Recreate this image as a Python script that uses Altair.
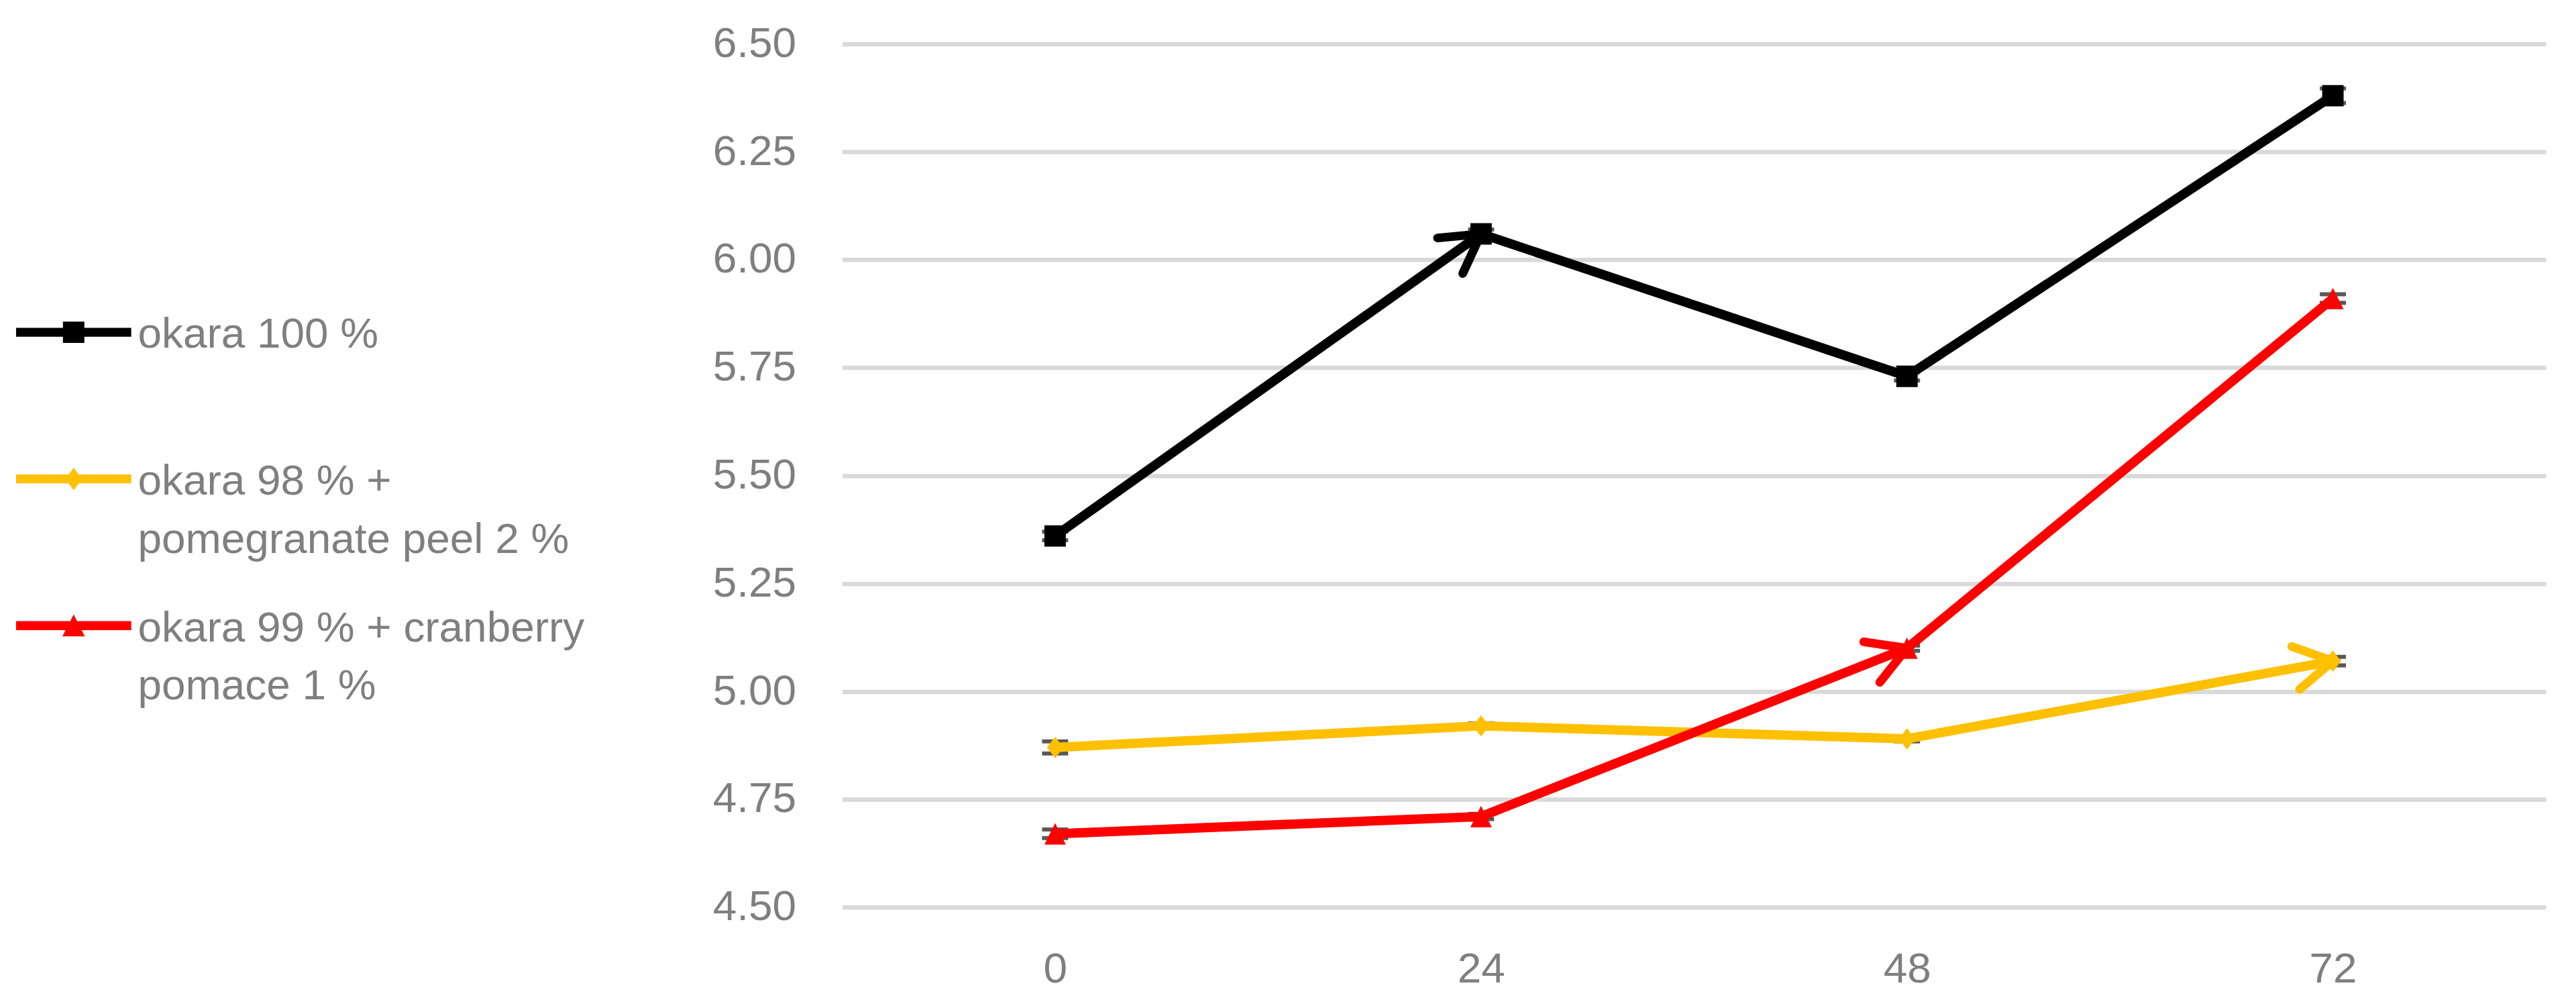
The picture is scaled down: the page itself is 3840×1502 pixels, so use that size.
import math
import altair as alt
import pandas as pd

# ---------------- data ----------------
hours = ["0", "24", "48", "72"]
series_keys = [
    "okara 100 %|",
    "okara 98 % +|pomegranate peel 2 %",
    "okara 99 % + cranberry|pomace 1 %",
]
colors = ["#000000", "#FFC000", "#FF0000"]
okara100 = [5.36, 6.06, 5.73, 6.38]
pomegranate = [4.87, 4.92, 4.89, 5.07]
cranberry = [4.67, 4.71, 5.10, 5.91]
err_okara100 = [0.01, 0.01, 0.01, 0.017]
err_pomegranate = [0.014, 0.006, 0.006, 0.01]
err_cranberry = [0.01, 0.006, 0.006, 0.01]
arrow_at = [1, 3, 2]          # index of the point an arrow head ends on
y_ticks = [4.50, 4.75, 5.00, 5.25, 5.50, 5.75, 6.00, 6.25, 6.50]

# ---------------- layout / style ----------------
W, H = 2545, 1289
YMIN, YMAX = 4.5, 6.5
FONT = "Liberation Sans Narrow, Arial Narrow, Liberation Sans, sans-serif"
GRAY = "#7f7f7f"
FS = 64

values = [okara100, pomegranate, cranberry]
errs = [err_okara100, err_pomegranate, err_cranberry]

rows = []
for key, vals, es in zip(series_keys, values, errs):
    for h, v, e in zip(hours, vals, es):
        rows.append(dict(series=key, hour=h, value=v, lo=v - e, hi=v + e))
df = pd.DataFrame(rows)

step = W / len(hours)
arr_rows = []
for key, vals, idx in zip(series_keys, values, arrow_at):
    dy = -(vals[idx] - vals[idx - 1]) * H / (YMAX - YMIN)
    ang = math.degrees(math.atan2(dy, step)) % 360
    arr_rows.append(dict(series=key, hour=hours[idx], value=vals[idx], angle=ang))
arr_df = pd.DataFrame(arr_rows)

legend_df = pd.DataFrame({"key": series_keys})

marker_paths = [
    "M-1,-1H1V1H-1Z",
    "M0,-1L0.76,0L0,1L-0.76,0Z",
    "M0,-1L1,1L-1,1Z",
]

# legend symbol: line (172px wide) with marker, drawn with r = 68px per unit
LS = 136                     # sqrt(symbol size)
r = LS / 2
hw = 86 / r                  # half width of the line symbol
s = 27.6 / r                 # shift down to first label line
t = 6.7 / r                  # half line thickness
m = 16 / r                   # half marker size
dw = 12.5 / r                # half diamond width
bar = f"M{-hw:.4f},{s-t:.4f}H{hw:.4f}V{s+t:.4f}H{-hw:.4f}Z"
legend_paths = [
    bar + f" M{-m:.4f},{s-m:.4f}H{m:.4f}V{s+m:.4f}H{-m:.4f}Z",
    bar + f" M0,{s-m*1.05:.4f}L{dw:.4f},{s:.4f}L0,{s+m*1.05:.4f}L{-dw:.4f},{s:.4f}Z",
    bar + f" M0,{s-m*1.05:.4f}L{m*1.05:.4f},{s+m:.4f}L{-m*1.05:.4f},{s+m:.4f}Z",
]
arrow_path = "M-0.87,-0.5L0,0L-0.87,0.5"

xscale = alt.Scale(type="point", padding=0.5)
yscale = alt.Scale(domain=[YMIN, YMAX], nice=False, zero=False)

x_axis = alt.Axis(title=None, labelAngle=0, labelFont=FONT, labelFontSize=FS,
                  labelColor=GRAY, ticks=False, tickSize=0, domain=False,
                  grid=False, labelPadding=61)
y_axis = alt.Axis(title=None, values=y_ticks, format=".2f", labelFont=FONT,
                  labelFontSize=FS, labelColor=GRAY, ticks=False, tickSize=0,
                  domain=False, grid=True, gridColor="#d9d9d9", gridWidth=6.5,
                  labelPadding=69)

x_enc = alt.X("hour:N", sort=hours, scale=xscale, axis=x_axis)


def y_of(field):
    return alt.Y(field, scale=yscale, axis=y_axis)


color_enc = alt.Color("series:N", scale=alt.Scale(domain=series_keys, range=colors), legend=None)

base = alt.Chart(df)

stems = base.mark_rule(color="#595959", strokeWidth=5).encode(
    x=x_enc, y=y_of("lo:Q"), y2="hi:Q"
)
caps = base.transform_fold(["lo", "hi"], as_=["bound", "bval"]).mark_tick(
    color="#595959", size=39, thickness=6, opacity=1
).encode(x=x_enc, y=y_of("bval:Q"))

lines = base.mark_line(strokeWidth=14, strokeCap="round", strokeJoin="round").encode(
    x=x_enc, y=y_of("value:Q"), color=color_enc
)

markers = base.mark_point(filled=True, opacity=1, size=1024, strokeWidth=0).encode(
    x=x_enc, y=y_of("value:Q"), color=color_enc,
    shape=alt.Shape("series:N", scale=alt.Scale(domain=series_keys, range=marker_paths), legend=None),
)

arrows = alt.Chart(arr_df).mark_point(
    filled=False, opacity=1, size=16900, strokeWidth=13, strokeCap="round",
    strokeJoin="miter", shape=arrow_path,
).encode(
    x=x_enc, y=y_of("value:Q"), color=color_enc, angle=alt.Angle("angle:Q", scale=None)
)

leg = alt.Legend(
    orient="none", legendX=-1216, legendY=335, direction="vertical", title=None,
    labelFont=FONT, labelFontSize=FS, labelColor=GRAY, labelBaseline="top",
    labelOffset=28, labelLimit=3000, rowPadding=0, symbolSize=LS * LS,
    symbolStrokeWidth=0, symbolOpacity=1,
    labelExpr="split(datum.label, '|')",
)
legend_layer = alt.Chart(legend_df).transform_filter("false").mark_point(
    filled=True, opacity=1, size=LS * LS, strokeWidth=0
).encode(
    color=alt.Color("key:N", scale=alt.Scale(domain=series_keys, range=colors), legend=leg),
    shape=alt.Shape("key:N", scale=alt.Scale(domain=series_keys, range=legend_paths), legend=leg),
)

chart = (
    alt.layer(stems, caps, lines, markers, arrows, legend_layer)
    .resolve_scale(color="independent", shape="independent")
    .properties(
        width=W, height=H,
        autosize=alt.AutoSizeParams(type="none"),
        padding={"left": 1250, "top": 56, "right": 37, "bottom": 149},
    )
    .configure(font=FONT, style={"guide-label": {"lineHeight": 87}})
    .configure_view(strokeWidth=0, stroke="transparent")
)

chart.save("out.html", embed_options={"renderer": "svg", "actions": False})
